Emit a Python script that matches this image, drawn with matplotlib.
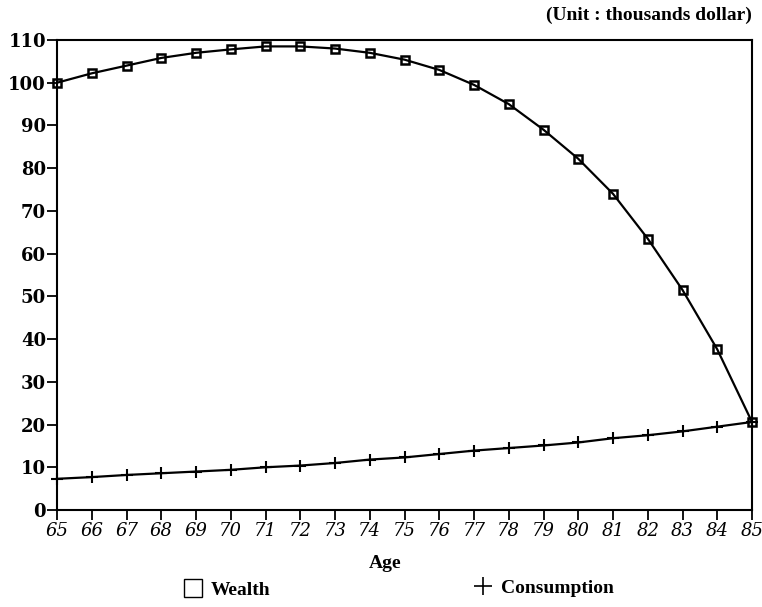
import matplotlib
matplotlib.use("Agg")
import matplotlib.pyplot as plt
from matplotlib.lines import Line2D

ages = list(range(65, 86))
wealth = [100.0, 102.2, 104.0, 105.8, 107.0, 107.8, 108.5, 108.5, 108.0, 107.0,
          105.4, 103.0, 99.5, 95.0, 89.0, 82.2, 74.0, 63.5, 51.5, 37.6, 20.6]
consumption = [7.3, 7.7, 8.2, 8.6, 9.0, 9.4, 10.0, 10.4, 11.0, 11.8,
               12.3, 13.1, 13.9, 14.5, 15.1, 15.8, 16.8, 17.5, 18.4, 19.5, 20.6]
yticks = list(range(0, 111, 10))

plt.rcParams['font.family'] = ['DejaVu Serif']

fig = plt.figure(figsize=(7.62, 6.07), dpi=100)
ax = fig.add_axes([57/762, 1-510/607, (752-57)/762, (510-40)/607])

ax.plot(ages, wealth, color='black', lw=1.6, marker='s', ms=6, mfc='none',
        mec='black', mew=1.8, clip_on=False, zorder=3)
ax.plot(ages, consumption, color='black', lw=1.6, marker='+', ms=8,
        mew=1.5, clip_on=False, zorder=3)

ax.set_xlim(65, 85)
ax.set_ylim(0, 110)
ax.set_xticks(ages)
ax.set_xticklabels([str(a) for a in ages], fontsize=13, style='italic')
ax.set_yticks(yticks)
ax.set_yticklabels([str(v) for v in yticks], fontsize=13, fontweight='bold')
ax.tick_params(direction='out', length=7, width=1.3, pad=2, color='black')
ax.tick_params(axis='y', pad=1)
for s in ax.spines.values():
    s.set_linewidth(1.5)

serif_b = {'family': ['Liberation Serif', 'DejaVu Serif'], 'weight': 'bold', 'size': 14}
ax.set_xlabel('Age', fontdict=serif_b)
ax.xaxis.set_label_coords((385-57)/695, -0.095)
fig.text(752/762, 1-15/607, '(Unit : thousands dollar)', ha='right', va='center',
         fontdict=serif_b)

h1 = Line2D([], [], marker='s', ls='none', ms=13, mfc='white', mec='black', mew=1.0)
h2 = Line2D([], [], marker='+', ls='none', ms=13, mec='black', mew=1.2)
leg1 = fig.legend(handles=[h1], labels=['Wealth'], loc='center left',
                  bbox_to_anchor=(168/762, 1-590/607), frameon=False,
                  handlelength=0.8, handletextpad=0.5, prop=serif_b)
leg2 = fig.legend(handles=[h2], labels=['Consumption'], loc='center left',
                  bbox_to_anchor=(458/762, 1-588/607), frameon=False,
                  handlelength=0.8, handletextpad=0.5, prop=serif_b)

fig.savefig('out.png', dpi=100)
